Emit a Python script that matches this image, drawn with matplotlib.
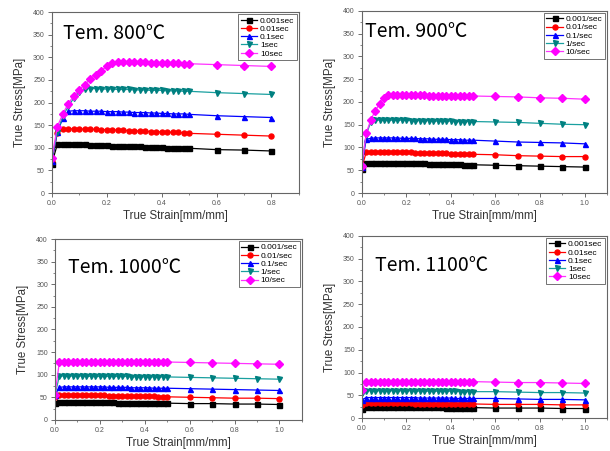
import matplotlib
matplotlib.use("Agg")
import matplotlib.pyplot as plt
from matplotlib.ticker import MultipleLocator

plt.rcParams["font.family"] = ["Liberation Sans", "DejaVu Sans", "Noto Sans CJK KR"]

# strain points (mm/mm)
strain_800 = [0.0, 0.02, 0.04, 0.06, 0.08, 0.10, 0.12, 0.14, 0.16, 0.18, 0.20, 0.22, 0.24,
              0.26, 0.28, 0.30, 0.32, 0.34, 0.36, 0.38, 0.40, 0.42, 0.44, 0.46, 0.48, 0.50,
              0.6, 0.7, 0.8]
strain_hi = [0.0, 0.02, 0.04, 0.06, 0.08, 0.10, 0.12, 0.14, 0.16, 0.18, 0.20, 0.22, 0.24,
             0.26, 0.28, 0.30, 0.32, 0.34, 0.36, 0.38, 0.40, 0.42, 0.44, 0.46, 0.48, 0.50,
             0.6, 0.7, 0.8, 0.9, 1.0]

# 800 C
s800_0001 = [65, 108, 109, 109, 108, 108, 108, 107, 107, 106, 106, 105, 105, 104, 104, 103,
             103, 102, 102, 101, 101, 100, 100, 100, 99, 99, 96, 95, 93]
s800_001 = [70, 133, 141, 142, 142, 142, 141, 141, 141, 140, 140, 140, 139, 139, 138, 138,
            137, 137, 136, 136, 135, 135, 134, 134, 133, 132, 130, 128, 126]
s800_01 = [70, 135, 165, 181, 182, 182, 182, 181, 181, 181, 180, 180, 180, 179, 179, 178,
           178, 178, 177, 177, 176, 176, 175, 175, 175, 174, 171, 169, 167]
s800_1 = [75, 135, 170, 192, 210, 224, 231, 231, 231, 230, 230, 230, 229, 229, 229, 228,
          228, 228, 227, 227, 227, 226, 226, 226, 225, 225, 222, 220, 218]
s800_10 = [78, 147, 175, 198, 215, 228, 240, 252, 262, 271, 280, 288, 290, 290, 289, 289,
           289, 289, 288, 288, 288, 287, 287, 287, 286, 286, 284, 282, 280]

# 900 C
s900_0001 = [53, 66, 67, 67, 67, 67, 67, 67, 66, 66, 66, 66, 65, 65, 65, 64, 64, 64, 64, 63,
             63, 63, 63, 62, 62, 62, 61, 60, 59, 58, 57]
s900_001 = [55, 89, 90, 90, 90, 90, 90, 89, 89, 89, 89, 89, 88, 88, 88, 88, 87, 87, 87, 87,
            86, 86, 86, 86, 85, 85, 84, 82, 81, 80, 80]
s900_01 = [58, 118, 120, 121, 121, 121, 121, 121, 121, 120, 120, 120, 120, 119, 119, 119,
           118, 118, 118, 118, 117, 117, 117, 116, 116, 116, 114, 112, 111, 110, 108]
s900_1 = [60, 128, 155, 160, 160, 160, 160, 160, 160, 160, 160, 159, 159, 159, 159, 159,
          158, 158, 158, 158, 158, 157, 157, 157, 157, 157, 156, 155, 153, 151, 150]
s900_10 = [60, 131, 160, 180, 196, 208, 215, 215, 215, 215, 215, 215, 215, 215, 215, 214,
           214, 214, 214, 214, 214, 214, 214, 213, 213, 213, 212, 211, 209, 208, 206]

# 1000 C
s1000_0001 = [38, 40, 40, 40, 40, 40, 40, 40, 39, 39, 39, 39, 39, 39, 38, 38, 38, 38, 38,
              37, 37, 37, 37, 37, 37, 37, 36, 36, 35, 35, 34]
s1000_001 = [50, 55, 55, 55, 55, 55, 54, 54, 54, 54, 54, 54, 53, 53, 53, 53, 53, 52, 52, 52,
             52, 52, 52, 51, 51, 51, 50, 49, 48, 48, 47]
s1000_01 = [55, 72, 73, 73, 73, 73, 73, 73, 73, 73, 73, 73, 72, 72, 72, 72, 72, 71, 71, 71,
            71, 71, 70, 70, 70, 70, 69, 68, 67, 66, 65]
s1000_1 = [55, 97, 97, 97, 97, 97, 97, 97, 96, 96, 96, 96, 96, 96, 96, 96, 96, 95, 95, 95,
           95, 95, 95, 95, 95, 95, 94, 93, 92, 91, 90]
s1000_10 = [55, 128, 129, 129, 129, 129, 129, 129, 129, 129, 129, 129, 129, 129, 129, 129,
            129, 129, 129, 129, 128, 128, 128, 128, 128, 128, 127, 126, 125, 124, 123]

# 1100 C
s1100_0001 = [20, 25, 25, 25, 25, 25, 25, 25, 25, 25, 25, 24, 24, 24, 24, 24, 24, 24, 24,
              23, 23, 23, 23, 23, 23, 23, 22, 22, 22, 21, 21]
s1100_001 = [28, 33, 33, 33, 33, 33, 33, 33, 33, 33, 33, 33, 32, 32, 32, 32, 32, 32, 32, 32,
             31, 31, 31, 31, 31, 31, 30, 30, 30, 29, 29]
s1100_01 = [40, 45, 45, 45, 45, 45, 45, 45, 45, 45, 45, 45, 45, 44, 44, 44, 44, 44, 44, 44,
            44, 43, 43, 43, 43, 43, 43, 42, 41, 41, 40]
s1100_1 = [55, 60, 60, 60, 60, 60, 60, 60, 60, 60, 60, 60, 60, 59, 59, 59, 59, 59, 59, 59,
           59, 59, 58, 58, 58, 58, 58, 57, 56, 56, 55]
s1100_10 = [62, 80, 80, 80, 80, 80, 80, 80, 80, 80, 80, 80, 80, 80, 80, 80, 80, 80, 80, 80,
            80, 80, 80, 80, 80, 80, 79, 78, 78, 77, 76]

labels_sec = ["0.001sec", "0.01sec", "0.1sec", "1sec", "10sec"]
labels_per = ["0.001/sec", "0.01/sec", "0.1/sec", "1/sec", "10/sec"]

kolorlar = ["black", "red", "blue", "#008080", "#ff00ff"]
line_kolor = ["black", "red", "blue", "#1aa0a0", "#ff33ff"]
markerler = ["s", "o", "^", "v", "D"]

# title, strain, series, labels, xmax, axes rect, title position
paneller = [
    ("Tem. 800\u2103", strain_800, [s800_0001, s800_001, s800_01, s800_1, s800_10], labels_sec, 0.9,
     [0.085, 0.572, 0.405, 0.401], (0.045, 0.88)),
    ("Tem. 900\u2103", strain_hi, [s900_0001, s900_001, s900_01, s900_1, s900_10], labels_per, 1.1,
     [0.593, 0.572, 0.402, 0.404], (0.015, 0.885)),
    ("Tem. 1000\u2103", strain_hi, [s1000_0001, s1000_001, s1000_01, s1000_1, s1000_10], labels_per, 1.1,
     [0.090, 0.069, 0.405, 0.401], (0.053, 0.845)),
    ("Tem. 1100\u2103", strain_hi, [s1100_0001, s1100_001, s1100_01, s1100_1, s1100_10], labels_sec, 1.1,
     [0.593, 0.073, 0.402, 0.404], (0.053, 0.84)),
]

fig = plt.figure(figsize=(6.1, 4.51), dpi=100)

for baslik, x, seriler, etiketler, xmax, pos, tpos in paneller:
    ax = fig.add_axes(pos)
    for y, lab, c, lc, m in zip(seriler, etiketler, kolorlar, line_kolor, markerler):
        ax.plot(x, y, color=lc, linewidth=0.9, marker=m, markersize=3.6,
                markerfacecolor=c, markeredgecolor=c, label=lab)
    ax.set_xlim(0, xmax)
    ax.set_ylim(0, 400)
    ax.yaxis.set_major_locator(MultipleLocator(50))
    ax.yaxis.set_minor_locator(MultipleLocator(25))
    ax.xaxis.set_major_locator(MultipleLocator(0.2))
    ax.xaxis.set_minor_locator(MultipleLocator(0.1))
    ax.tick_params(axis="both", which="major", labelsize=5, colors="#555555", length=3,
                   width=0.6, pad=2)
    ax.tick_params(axis="both", which="minor", colors="#555555", length=1.5, width=0.5)
    for sp in ax.spines.values():
        sp.set_color("#666666")
        sp.set_linewidth(0.8)
    ax.set_xlabel("True Strain[mm/mm]", fontsize=8.3, color="#333333", labelpad=2)
    ax.set_ylabel("True Stress[MPa]", fontsize=8.3, color="#333333", labelpad=5)
    ax.text(tpos[0], tpos[1], baslik, transform=ax.transAxes, fontsize=14, va="center",
            ha="left", family=["Noto Sans CJK KR", "DejaVu Sans"])
    leg = ax.legend(loc="upper right", fontsize=6, frameon=True, fancybox=False,
                    borderpad=0.3, labelspacing=0.05, handlelength=2.0, handletextpad=0.3,
                    borderaxespad=0.25)
    leg.get_frame().set_edgecolor("#333333")
    leg.get_frame().set_linewidth(0.6)

plt.savefig("out.png", dpi=100)
plt.close()
